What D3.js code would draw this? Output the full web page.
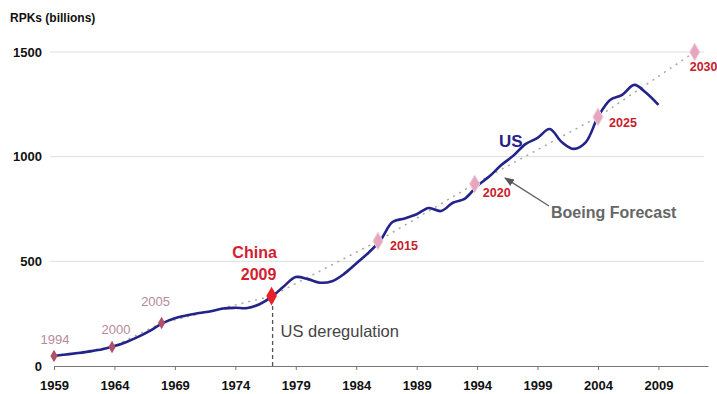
<!DOCTYPE html>
<html>
<head>
<meta charset="utf-8">
<script src="https://cdn.jsdelivr.net/npm/d3@7/dist/d3.min.js"></script>
<style>
  html, body { margin: 0; padding: 0; background: #fff; }
  svg { display: block; font-family: "Liberation Sans", Arial, sans-serif; }
</style>
</head>
<body>
<svg id="chart" width="717" height="394"></svg>
<script>
// US revenue passenger kilometres, billions
const usYears = [1959,1960,1961,1962,1963,1964,1965,1966,1967,1968,1969,1970,1971,1972,1973,1974,1975,1976,1977,1978,1979,1980,1981,1982,1983,1984,1985,1986,1987,1988,1989,1990,1991,1992,1993,1994,1995,1996,1997,1998,1999,2000,2001,2002,2003,2004,2005,2006,2007,2008,2009];
const usValues = [48,55,62,70,80,95,115,140,170,205,228,242,253,262,275,278,277,295,330,380,425,415,398,405,440,490,540,600,688,705,725,755,740,780,800,860,905,960,1005,1060,1090,1132,1070,1037,1070,1190,1271,1295,1343,1304,1247];

// China milestones, placed at the US year with the same traffic level
const chinaLabels = ["1994","2000","2005","2009","2015","2020","2025","2030"];
const chinaUsYear = [1959,1963.8,1967.9,1977,1985.8,1993.8,2004,2012];
const chinaValues = [48,91,205,334,597,870,1190,1500];
const chinaKind = ["past","past","past","now","fcst","fcst","fcst","fcst"];

const xTicks = [1959,1964,1969,1974,1979,1984,1989,1994,1999,2004,2009];
const yTicks = [0,500,1000,1500];
const deregulationYear = 1977;

const svg = d3.select("#chart");
const x = d3.scaleLinear().domain([1959, 2013.1]).range([54, 708]);
const y = d3.scaleLinear().domain([0, 1500]).range([366, 52]);

// gridlines
svg.append("g").selectAll("line")
  .data(yTicks.filter(d => d > 0))
  .join("line")
  .attr("x1", 50).attr("x2", 704)
  .attr("y1", d => y(d)).attr("y2", d => y(d))
  .attr("stroke", "#dedede").attr("stroke-width", 1);

// y tick labels
svg.append("g").selectAll("text")
  .data(yTicks)
  .join("text")
  .attr("x", 42).attr("y", d => y(d) + 4.5)
  .attr("text-anchor", "end")
  .attr("font-size", 13).attr("font-weight", "bold").attr("fill", "#111")
  .text(d => d);

svg.append("text")
  .attr("x", 10).attr("y", 22)
  .attr("font-size", 12).attr("font-weight", "bold").attr("fill", "#111")
  .text("RPKs (billions)");

// x axis
const xAxis = d3.axisBottom(x).tickValues(xTicks).tickFormat(d3.format("d")).tickSize(4).tickSizeOuter(0);
const gx = svg.append("g").attr("transform", `translate(0,${y(0)})`).call(xAxis);
gx.select(".domain").attr("stroke", "#777").attr("stroke-width", 1.2);
gx.selectAll(".tick line").attr("stroke", "#777");
gx.selectAll(".tick text")
  .attr("font-family", "Liberation Sans, Arial, sans-serif")
  .attr("font-size", 13).attr("font-weight", "bold").attr("fill", "#111")
  .attr("y", 12).attr("dy", "0.9em");

// deregulation marker
svg.append("line")
  .attr("x1", x(deregulationYear) + 1).attr("x2", x(deregulationYear) + 1)
  .attr("y1", y(320)).attr("y2", y(0))
  .attr("stroke", "#555").attr("stroke-width", 1.3).attr("stroke-dasharray", "4,3");
svg.append("text")
  .attr("x", x(deregulationYear) + 9).attr("y", 337)
  .attr("font-size", 16.5).attr("fill", "#444")
  .text("US deregulation");

// forecast path through China milestones
const chinaPts = chinaUsYear.map((yr, i) => ({yr, v: chinaValues[i], label: chinaLabels[i], kind: chinaKind[i]}));
svg.append("path")
  .datum(chinaPts)
  .attr("d", d3.line().x(d => x(d.yr)).y(d => y(d.v)))
  .attr("fill", "none").attr("stroke", "#a8a8a0").attr("stroke-width", 1.5)
  .attr("stroke-dasharray", "2,5");

// US line
svg.append("path")
  .datum(usYears.map((yr, i) => ({yr, v: usValues[i]})))
  .attr("d", d3.line().x(d => x(d.yr)).y(d => y(d.v)).curve(d3.curveCatmullRom.alpha(0.5)))
  .attr("fill", "none").attr("stroke", "#23238a").attr("stroke-width", 2.6)
  .attr("stroke-linejoin", "round");

// milestone diamonds
const diamond = d3.symbol().type(d3.symbolDiamond);
svg.append("g").selectAll("path")
  .data(chinaPts)
  .join("path")
  .attr("transform", d => `translate(${x(d.yr)},${y(d.v)})`)
  .attr("d", d => diamond.size(d.kind === "now" ? 100 : d.kind === "fcst" ? 90 : 45)())
  .attr("fill", d => d.kind === "now" ? "#e8202a" : d.kind === "fcst" ? "#e6a6bf" : "#b0506a")
  .attr("stroke", d => d.kind === "fcst" ? "#f2cfdc" : "none")
  .attr("stroke-width", 1);

// milestone labels
const labelOffsets = {
  "1994": [1, -12], "2000": [4, -13], "2005": [-6, -17],
  "2015": [26, 9], "2020": [22, 13], "2025": [25, 10], "2030": [-5, 19]
};
svg.append("g").selectAll("text")
  .data(chinaPts.filter(d => d.kind !== "now"))
  .join("text")
  .attr("x", d => x(d.yr) + labelOffsets[d.label][0])
  .attr("y", d => y(d.v) + labelOffsets[d.label][1])
  .attr("text-anchor", d => d.label === "2030" ? "start" : "middle")
  .attr("font-size", d => d.kind === "past" ? 13 : 12.5)
  .attr("font-weight", d => d.kind === "past" ? "normal" : "bold")
  .attr("fill", d => d.kind === "past" ? "#b78a9c" : "#c8202a")
  .text(d => d.label);

const now = chinaPts.find(d => d.kind === "now");
svg.append("text")
  .attr("x", x(now.yr) - 17).attr("y", 258)
  .attr("text-anchor", "middle")
  .attr("font-size", 16).attr("font-weight", "bold").attr("fill", "#d42030")
  .text("China");
svg.append("text")
  .attr("x", x(now.yr) - 13).attr("y", 280)
  .attr("text-anchor", "middle")
  .attr("font-size", 16).attr("font-weight", "bold").attr("fill", "#d42030")
  .text(now.label);

// series labels
svg.append("text")
  .attr("x", 499).attr("y", 147)
  .attr("font-size", 17).attr("font-weight", "bold").attr("fill", "#23238a")
  .text("US");

svg.append("defs").append("marker")
  .attr("id", "arrow").attr("viewBox", "0 0 10 10")
  .attr("refX", 9).attr("refY", 5)
  .attr("markerWidth", 7).attr("markerHeight", 7)
  .attr("orient", "auto-start-reverse")
  .append("path").attr("d", "M0,1 L10,5 L0,9 z").attr("fill", "#555");
svg.append("line")
  .attr("x1", 549).attr("y1", 206).attr("x2", 505).attr("y2", 178)
  .attr("stroke", "#666").attr("stroke-width", 1.4)
  .attr("marker-end", "url(#arrow)");
svg.append("text")
  .attr("x", 551).attr("y", 218)
  .attr("font-size", 16).attr("font-weight", "bold").attr("fill", "#666")
  .text("Boeing Forecast");
</script>
</body>
</html>
